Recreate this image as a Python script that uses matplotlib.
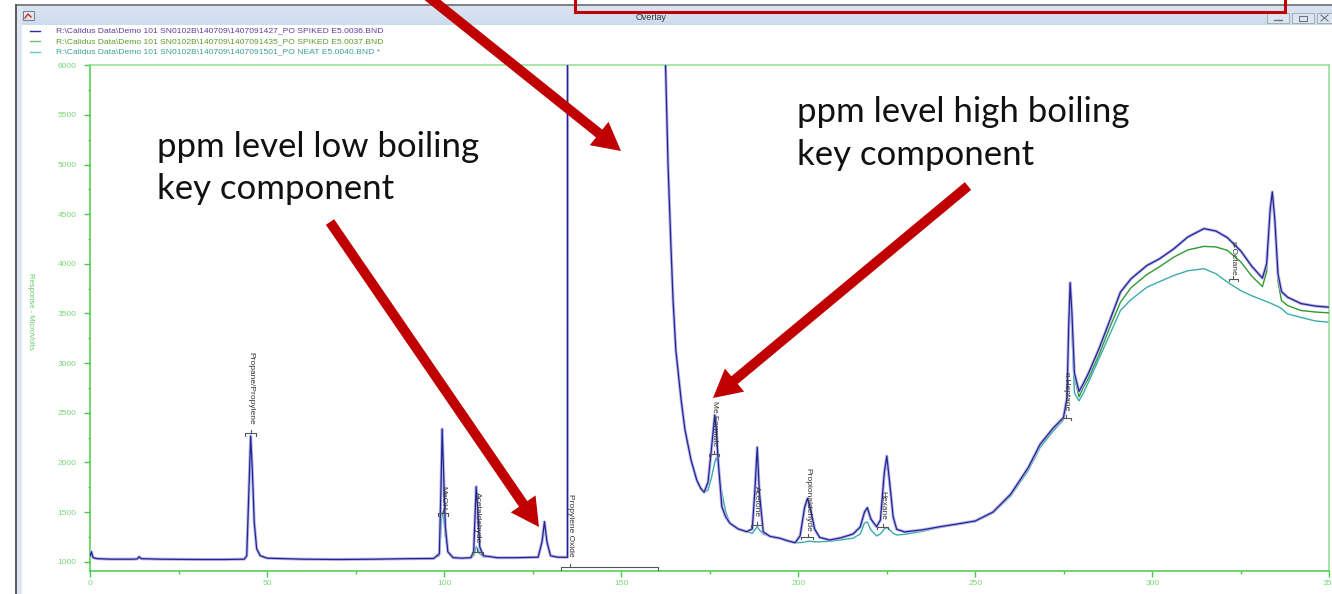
import numpy as np
import matplotlib
matplotlib.use("Agg")
import matplotlib.pyplot as plt
from matplotlib.patches import Rectangle, FancyArrow

plt.rcParams["font.family"] = ["Liberation Sans", "DejaVu Sans"]

# retention time (s) and detector response (microvolts) for the three runs
ret_time = [
    0.0, 0.3, 0.8, 2, 6, 12, 13.3, 13.8, 14.4, 20, 30, 38,
    43.5, 44.2, 44.8, 45.3, 45.8, 46.3, 47.0, 48.0, 50,
    60, 70, 80, 90, 97,
    98.6, 99.1, 99.4, 99.8, 100.3, 101, 102.5, 105,
    107.5, 108.3, 108.8, 109.0, 109.4, 110.0, 111, 115, 120,
    126.5, 127.6, 128.3, 129.0, 130, 132, 134.8,
    134.9, 160.0, 162.5, 163.2, 164.0, 164.6, 165.4, 166.9, 168.0, 169.7, 171.3, 172.4, 173.4,
    174.5, 175.5, 176.4, 176.8, 177.4, 178.4, 179.5, 180.7, 183.0, 185.4,
    187.0, 187.7, 188.4, 189.0, 190.1, 192.0, 194.8, 197.0, 199.1,
    200.5, 201.8, 202.6, 203.5, 204.6, 206.0, 208.9, 212.0, 215.5,
    217.5, 218.7, 219.5, 220.5, 222.1, 223.2, 224.3, 225.0, 225.8, 226.8, 227.8,
    230, 235, 240, 245, 250, 255, 260, 265, 268.3, 272.1, 274.9,
    275.9, 276.4, 276.8, 277.3, 278.0, 279.3, 280.6, 282, 285, 288,
    291, 294, 298.5, 302, 306.1, 310, 314.6, 318, 321.2, 325, 328, 331.1,
    332.3, 333.3, 333.9, 334.6, 335.5, 336.5, 338.2, 342, 346, 350,
]

spiked_0036 = [
    1060, 1100, 1040, 1030, 1025, 1025, 1028, 1050, 1030, 1025, 1022, 1022,
    1025, 1060, 1700, 2266, 1900, 1400, 1130, 1060, 1035,
    1025, 1022, 1025, 1030, 1032,
    1080, 1800, 2336, 1900, 1350, 1100, 1040, 1035,
    1040, 1100, 1550, 1755, 1550, 1150, 1060, 1040, 1040,
    1045, 1200, 1403, 1200, 1060, 1045, 1044,
    30000, 30000, 6000, 5000, 4200, 3650, 3132, 2629, 2326, 2024, 1823, 1740, 1699,
    1800, 2150, 2477, 2350, 2000, 1554, 1450, 1387, 1330, 1302,
    1330, 1700, 2152, 1700, 1300, 1255, 1236, 1210, 1191,
    1260, 1550, 1638, 1520, 1330, 1245, 1218, 1240, 1279,
    1350, 1500, 1544, 1430, 1352, 1420, 1900, 2064, 1800, 1450, 1326,
    1300, 1320, 1352, 1380, 1410, 1500, 1680, 1950, 2182, 2350, 2451,
    2650, 3400, 3810, 3500, 2900, 2714, 2800, 2900, 3150, 3430,
    3715, 3850, 3984, 4050, 4152, 4270, 4355, 4330, 4264, 4130, 3980, 3856,
    4000, 4550, 4725, 4450, 3900, 3720, 3664, 3600, 3575, 3563,
]

spiked_0037 = [
    1060, 1100, 1040, 1030, 1025, 1025, 1028, 1050, 1030, 1025, 1022, 1022,
    1025, 1060, 1650, 2230, 1880, 1400, 1130, 1060, 1035,
    1025, 1022, 1025, 1030, 1032,
    1070, 1700, 2200, 1800, 1320, 1100, 1040, 1035,
    1040, 1100, 1500, 1700, 1500, 1140, 1060, 1040, 1040,
    1045, 1190, 1390, 1190, 1060, 1045, 1044,
    30000, 30000, 6000, 5000, 4200, 3650, 3132, 2629, 2326, 2024, 1823, 1740, 1699,
    1790, 2120, 2440, 2320, 1980, 1560, 1450, 1387, 1330, 1302,
    1330, 1680, 2100, 1680, 1300, 1255, 1236, 1210, 1191,
    1250, 1530, 1610, 1500, 1320, 1245, 1218, 1240, 1279,
    1350, 1490, 1530, 1420, 1350, 1410, 1850, 2000, 1760, 1440, 1326,
    1300, 1320, 1350, 1378, 1408, 1495, 1670, 1940, 2170, 2335, 2440,
    2640, 3380, 3800, 3480, 2860, 2661, 2760, 2850, 3090, 3360,
    3613, 3760, 3893, 3970, 4068, 4140, 4176, 4170, 4136, 4020, 3880, 3771,
    3920, 4500, 4700, 4400, 3820, 3630, 3580, 3530, 3515, 3506,
]

neat_0040 = [
    1060, 1100, 1040, 1030, 1025, 1025, 1028, 1050, 1030, 1025, 1022, 1022,
    1025, 1060, 1650, 2220, 1870, 1390, 1130, 1060, 1035,
    1025, 1022, 1025, 1030, 1032,
    1060, 1350, 1503, 1450, 1250, 1090, 1040, 1035,
    1040, 1060, 1120, 1150, 1130, 1080, 1050, 1040, 1040,
    1045, 1180, 1380, 1190, 1060, 1045, 1044,
    30000, 30000, 6000, 5000, 4200, 3650, 3132, 2629, 2326, 2024, 1823, 1740, 1699,
    1720, 1850, 2000, 2047, 1980, 1700, 1500, 1387, 1330, 1302,
    1285, 1320, 1352, 1320, 1279, 1255, 1236, 1210, 1191,
    1192, 1198, 1205, 1205, 1200, 1200, 1205, 1220, 1236,
    1280, 1390, 1400, 1320, 1259, 1280, 1330, 1346, 1320, 1285, 1269,
    1275, 1305, 1345, 1375, 1405, 1490, 1660, 1920, 2150, 2320, 2430,
    2600, 3300, 3700, 3300, 2700, 2620, 2704, 2810, 3050, 3290,
    3530, 3640, 3765, 3820, 3883, 3930, 3951, 3900, 3816, 3730, 3680, 3637,
    3620, 3605, 3595, 3585, 3570, 3550, 3496, 3460, 3425, 3412,
]

run_files = [
    r"R:\Calidus Data\Demo 101 SN0102B\140709\1407091427_PO SPIKED E5.0036.BND",
    r"R:\Calidus Data\Demo 101 SN0102B\140709\1407091435_PO SPIKED E5.0037.BND",
    r"R:\Calidus Data\Demo 101 SN0102B\140709\1407091501_PO NEAT E5.0040.BND *",
]

# peak identification: name, retention time, bracket level, label foot, bracket span
peak_names = ["Propane/Propylene", "MeOH", "Acetaldehyde", "Propylene Oxide", "Me Formate",
              "Acetone", "Propionaldehyde", "Hexane", "n-Heptane", "n-Octane"]
peak_rt = [45.3, 99.6, 109.3, 135.6, 176.3, 188.2, 202.6, 223.8, 275.6, 322.9]
bracket_level = [2293, 1490, 1100, 943, 2085, 1370, 1252, 1352, 2451, 3849]
label_foot = [2376, 1521, 1188, 1047, 2158, 1453, 1302, 1420, 2518, 3883]
bracket_start = [43.8, 98.1, 107.8, 132.9, 174.9, 186.6, 200.9, 222.3, 274.2, 321.6]
bracket_end = [46.9, 101.1, 110.8, 160.5, 177.6, 189.7, 204.2, 225.3, 277.0, 324.2]

NAVY = "#23238f"
GREEN = "#2f9a2f"
TEAL = "#3aacac"
AXIS_GREEN = "#48cc48"
LABEL_GREEN = "#78d878"

fig = plt.figure(figsize=(13.32, 5.94), dpi=100)
fig.patch.set_facecolor("white")

# main chromatogram axes
ax = fig.add_axes([90.3 / 1332, 1 - 571 / 594, (1329.3 - 90.3) / 1332, (571 - 65.3) / 594])
ax.set_xlim(0, 350)
ax.set_ylim(906, 6000)

ax.plot(ret_time, neat_0040, color=TEAL, lw=1.0, zorder=2)
ax.plot(ret_time, spiked_0037, color=GREEN, lw=1.0, zorder=3)
ax.plot(ret_time, spiked_0036, color="#b8b8ec", lw=2.2, zorder=4)
ax.plot(ret_time, spiked_0036, color=NAVY, lw=0.9, zorder=5)

for name, rt, lvl, foot, b0, b1 in zip(peak_names, peak_rt, bracket_level, label_foot,
                                      bracket_start, bracket_end):
    tick = 35 if name == "Propylene Oxide" else 25
    ax.plot([b0, b0, b1, b1], [lvl - tick, lvl, lvl, lvl - tick], color="#555555", lw=0.8, zorder=6)
    ax.plot([rt, rt], [lvl, lvl + 30], color="#555555", lw=0.8, zorder=6)
    ax.text(rt, foot, name, rotation=-90, ha="center", va="bottom", fontsize=6,
            color="#333333", zorder=7)

for side in ["left", "right", "top", "bottom"]:
    ax.spines[side].set_color(AXIS_GREEN)
    ax.spines[side].set_linewidth(1.1)
ax.spines["top"].set_color("#8fe08f")
ax.spines["right"].set_color("#8fe08f")

ax.set_xticks(np.arange(0, 351, 50))
ax.set_xticks(np.arange(0, 351, 25), minor=True)
ax.set_yticks(np.arange(1000, 6001, 500))
ax.set_yticks(np.arange(1000, 6001, 250), minor=True)
ax.tick_params(which="major", direction="out", length=4.3, width=1, color=AXIS_GREEN,
               labelcolor=LABEL_GREEN, labelsize=6)
ax.tick_params(which="minor", direction="out", length=1.8, width=1, color=AXIS_GREEN)
ax.tick_params(axis="y", pad=5.5)
ax.tick_params(axis="x", pad=2)

# overlay in pixel coordinates for the window frame and call-outs
ov = fig.add_axes([0, 0, 1, 1], zorder=10)
ov.set_xlim(0, 1332)
ov.set_ylim(594, 0)
ov.set_axis_off()
ov.patch.set_visible(False)

grad = np.linspace(0, 1, 20)[:, None, None]
top_c = np.array([0.86, 0.90, 0.95])
bot_c = np.array([0.80, 0.86, 0.93])
ov.imshow(top_c * (1 - grad) + bot_c * grad, extent=[16, 1332, 25, 4.5], aspect="auto", zorder=1)
ov.plot([16, 1332], [4.5, 4.5], color="#6e6e6e", lw=1.2, zorder=2)
ov.add_patch(Rectangle((17, 4.5), 5, 590, facecolor="#dde6f1", edgecolor="none", zorder=1))
ov.plot([16, 16], [4.5, 594], color="#5a5a5a", lw=1.4, zorder=2)
ov.text(651, 17, "Overlay", fontsize=6.5, color="#3a3a3a", ha="center", va="center")

ov.add_patch(Rectangle((23, 11), 11, 9, facecolor="#e4e4ec", edgecolor="#6a6a7a", lw=0.6, zorder=3))
ov.plot([25, 28, 31], [18, 14, 17], color="#c03030", lw=1, zorder=4)
for bx, bw in [(1267, 22), (1292, 22), (1317, 15)]:
    ov.add_patch(Rectangle((bx, 13), bw, 10, facecolor="#dfe5ee", edgecolor="#a2adbb", lw=0.7, zorder=3))
ov.plot([1274, 1282], [19.5, 19.5], color="#6a7480", lw=1, zorder=4)
ov.add_patch(Rectangle((1299, 15.5), 8, 5, facecolor="none", edgecolor="#6a7480", lw=0.8, zorder=4))
ov.plot([1321, 1328], [15, 21], color="#6a7480", lw=0.8, zorder=4)
ov.plot([1321, 1328], [21, 15], color="#6a7480", lw=0.8, zorder=4)

ov.add_patch(Rectangle((575, -10), 710, 21.7, facecolor="none", edgecolor="#c00000", lw=2.2, zorder=5))

# legend rows
legend_line = ["#2b2b9b", "#6cc46c", "#6ac8c8"]
legend_text = ["#5a3c9c", "#5a9e2a", "#3a9e9e"]
for i, (fname, lc, tc) in enumerate(zip(run_files, legend_line, legend_text)):
    y = 31 + 10.3 * i
    ov.plot([30, 40], [y, y], color=lc, lw=1, zorder=3)
    ov.text(56, y, fname, fontsize=6.1, color=tc, ha="left", va="center", zorder=3)

ov.text(30, 311, "Response - MicroVolts", rotation=-90, fontsize=5.5, color="#66cc66",
        ha="center", va="center")

# red call-out arrows
for (x0, y0), (x1, y1) in [((425, -6), (621, 151)), ((330, 222), (539, 527)),
                           ((968, 186), (713, 398))]:
    ov.add_patch(FancyArrow(x0, y0, x1 - x0, y1 - y0, width=10, head_width=30, head_length=28,
                            length_includes_head=True, facecolor="#c00000", edgecolor="none",
                            zorder=8))

callout_font = dict(fontsize=25, family=["Lato", "DejaVu Sans"], color="#111111",
                    ha="left", va="baseline", zorder=9)
ov.text(157, 157, "ppm level low boiling", **callout_font)
ov.text(157, 199, "key component", **callout_font)
ov.text(797, 122, "ppm level high boiling", **callout_font)
ov.text(797, 165, "key component", **callout_font)

fig.savefig("out.png", dpi=100)
